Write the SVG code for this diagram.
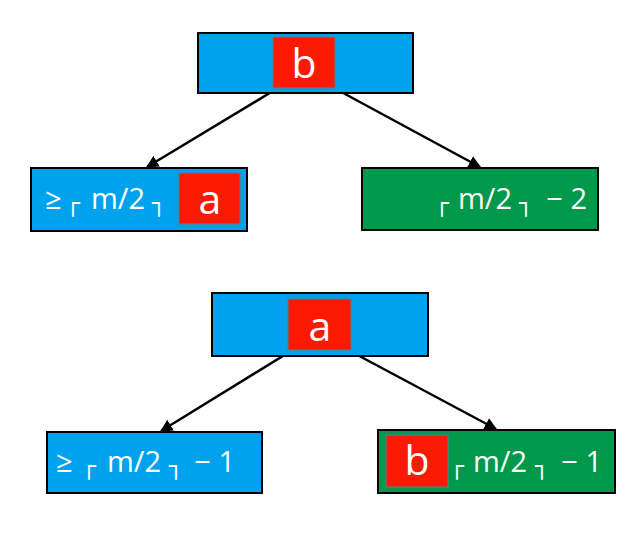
<svg xmlns="http://www.w3.org/2000/svg" width="639" height="537" viewBox="0 0 639 537">
  <style>
    .blue { fill: #00a2ed; stroke: #000; stroke-width: 2; }
    .green { fill: #00994c; stroke: #000; stroke-width: 2; }
    .key { fill: #fb1a00; stroke: #5a7a8c; stroke-width: 1.2; }
    .t { font-family: "Open Sans", "Noto Sans", sans-serif; font-size: 29px; fill: #fff; }
    .end { text-anchor: end; }
    .br { font-family: "DejaVu Sans", sans-serif; font-size: 23px; fill: #fff; }
    .k { font-family: "Open Sans", "Noto Sans", sans-serif; font-size: 41px; fill: #fff; text-anchor: middle; }
    .edge { stroke: #000; stroke-width: 2.5; fill: none; marker-end: url(#arrow); }
  </style>
  <defs>
    <marker id="arrow" viewBox="0 0 10 10" refX="9" refY="5" markerWidth="5" markerHeight="5" orient="auto" markerUnits="strokeWidth">
      <path d="M0,0 L10,5 L0,10 z" fill="#000"/>
    </marker>
  </defs>
  <rect width="639" height="537" fill="#fff"/>

  <g id="connectors">
    <line class="edge" x1="278" y1="88" x2="147" y2="167"/>
    <line class="edge" x1="334" y1="88" x2="480" y2="167"/>
    <line class="edge" x1="291" y1="351" x2="161" y2="431"/>
    <line class="edge" x1="350" y1="351" x2="496" y2="429"/>
  </g>

  <g id="root-b">
    <rect class="blue" x="198" y="33" width="215" height="60"/>
    <rect class="key" x="273" y="37" width="62" height="51"/>
    <text class="k" x="304" y="78">b</text>
  </g>

  <g id="left-top">
    <rect class="blue" x="31" y="168" width="216" height="63"/>
    <text class="t" x="45" y="209">≥</text>
    <text class="br" x="66" y="211">┌</text>
    <text class="t" x="91" y="209">m/2</text>
    <text class="br" x="152" y="211">┐</text>
    <rect class="key" x="179" y="173" width="61" height="51"/>
    <text class="k" x="210" y="214">a</text>
  </g>

  <g id="right-top">
    <rect class="green" x="362" y="168" width="236" height="62"/>
    <text class="br" x="435" y="211">┌</text>
    <text class="t" x="458" y="209">m/2</text>
    <text class="br" x="519" y="211">┐</text>
    <text class="t end" x="587" y="209">− 2</text>
  </g>

  <g id="root-a">
    <rect class="blue" x="212" y="293" width="216" height="63"/>
    <rect class="key" x="288" y="299" width="63" height="51"/>
    <text class="k" x="320" y="341">a</text>
  </g>

  <g id="left-bottom">
    <rect class="blue" x="47" y="432" width="215" height="61"/>
    <text class="t" x="56" y="472">≥</text>
    <text class="br" x="82" y="474">┌</text>
    <text class="t" x="107" y="472">m/2</text>
    <text class="br" x="169" y="474">┐</text>
    <text class="t end" x="235" y="472">− 1</text>
  </g>

  <g id="right-bottom">
    <rect class="green" x="378" y="430" width="237" height="63"/>
    <rect class="key" x="386" y="435" width="62" height="52"/>
    <text class="k" x="417" y="475">b</text>
    <text class="br" x="450" y="474">┌</text>
    <text class="t" x="473" y="472">m/2</text>
    <text class="br" x="535" y="474">┐</text>
    <text class="t end" x="602" y="472">− 1</text>
  </g>
</svg>
